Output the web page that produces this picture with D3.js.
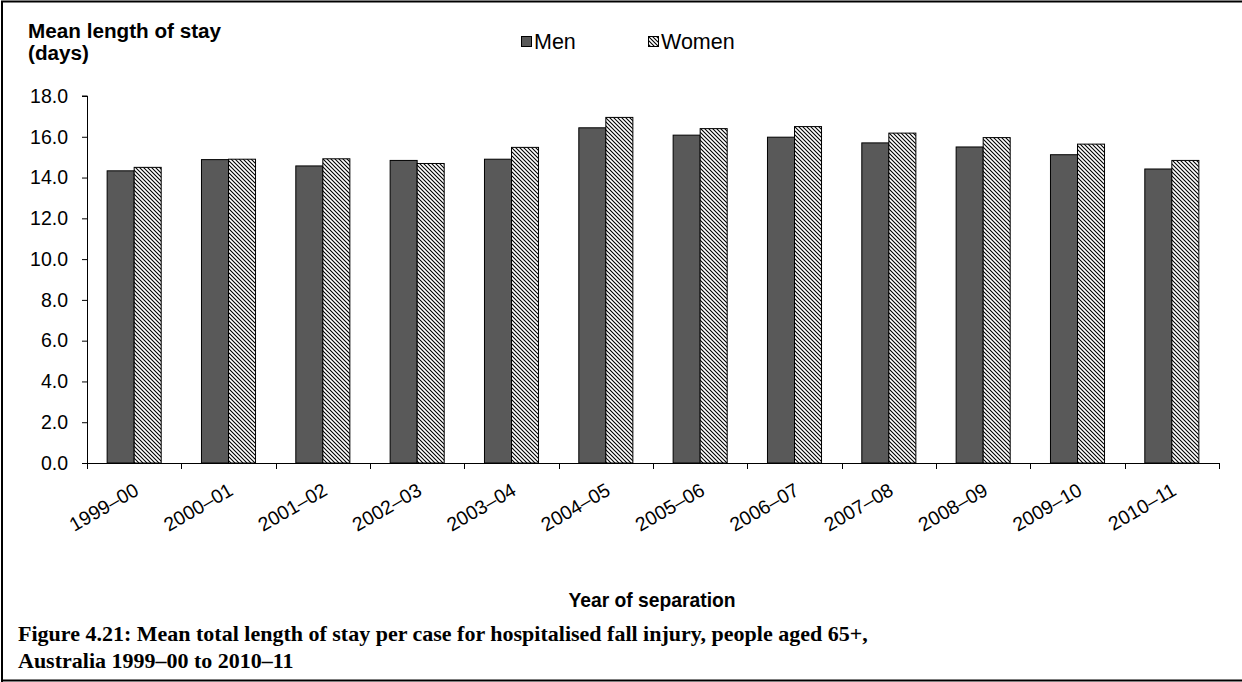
<!DOCTYPE html>
<html><head><meta charset="utf-8">
<script src="https://cdn.jsdelivr.net/npm/d3@7"></script>
<style>
html,body{margin:0;padding:0;background:#fff;}
svg{display:block;}
</style></head>
<body>
<svg id="c" width="1242" height="682"></svg>
<script>
const categories = ["1999–00","2000–01","2001–02","2002–03","2003–04","2004–05","2005–06","2006–07","2007–08","2008–09","2009–10","2010–11"];
const men   = [14.33, 14.88, 14.57, 14.84, 14.90, 16.44, 16.08, 15.98, 15.70, 15.50, 15.12, 14.42];
const women = [14.50, 14.90, 14.92, 14.69, 15.48, 16.95, 16.40, 16.50, 16.18, 15.96, 15.64, 14.84];
const yTicks = [0,2,4,6,8,10,12,14,16,18];
const seriesNames = ["Men","Women"];

const svg = d3.select("#c");
const defs = svg.append("defs");
const pat = defs.append("pattern").attr("id","hatch").attr("patternUnits","userSpaceOnUse")
  .attr("width",4).attr("height",4);
pat.append("rect").attr("width",4).attr("height",4).attr("fill","#fff");
pat.append("path").attr("d","M-1,-1 L5,5 M-1,3 L1,5 M3,-1 L5,1").attr("stroke","#000").attr("stroke-width",1.1);

// frame
svg.append("path").attr("d","M2,682 L2,1.5 L1242,1.5 M2,680.5 L1242,680.5").attr("fill","none").attr("stroke","#000").attr("stroke-width",2);

const pL = 87, pR = 1219, pT = 96, pB = 463;
const x0 = d3.scaleBand().domain(categories).range([pL,pR]).paddingInner(0.427).paddingOuter(0.2135);
const x1 = d3.scaleBand().domain(seriesNames).range([0,x0.bandwidth()]);
const y = d3.scaleLinear().domain([0,18]).range([pB,pT]);

const font = "'Liberation Sans', Arial, sans-serif";

// bars
const g = svg.append("g");
categories.forEach((c,i)=>{
  const vals = [men[i], women[i]];
  seriesNames.forEach((s,j)=>{
    g.append("rect")
      .attr("x", x0(c)+x1(s))
      .attr("y", y(vals[j]))
      .attr("width", x1.bandwidth())
      .attr("height", y(0)-y(vals[j]))
      .attr("fill", j===0 ? "#595959" : "url(#hatch)")
      .attr("stroke","#000").attr("stroke-width",1);
  });
});

// y axis
const yAxis = d3.axisLeft(y).tickValues(yTicks).tickFormat(d3.format(".1f")).tickSize(5).tickPadding(14);
const ya = svg.append("g").attr("transform",`translate(${pL},0)`).call(yAxis);
ya.selectAll("text").attr("font-family",font).attr("font-size",19.5).attr("fill","#000");
ya.select(".domain").attr("stroke","#000").attr("d",`M-5,${pT}H0.5V${pB}`);
ya.selectAll(".tick line").attr("stroke","#000");

// x axis
const xa = svg.append("g").attr("transform",`translate(0,${pB})`);
xa.append("line").attr("x1",pL).attr("x2",pR).attr("y1",0.5).attr("y2",0.5).attr("stroke","#000");
const step = x0.step();
const boundaries = d3.range(categories.length+1).map(i=> pL + i*step);
xa.selectAll("line.tk").data(boundaries).enter().append("line").attr("class","tk")
  .attr("x1",d=>Math.round(d)+0.5).attr("x2",d=>Math.round(d)+0.5).attr("y1",0).attr("y2",6).attr("stroke","#000");
xa.selectAll("text.lbl").data(categories).enter().append("text").attr("class","lbl")
  .attr("transform",c=>`translate(${x0(c)+x0.bandwidth()/2-1},19) rotate(-30)`)
  .attr("text-anchor","end").attr("dy","0.71em")
  .attr("font-family",font).attr("font-size",19.5).attr("fill","#000")
  .text(c=>c);

// axis titles
const tf = 20.7;
svg.append("text").attr("x",28).attr("y",38).attr("font-family",font).attr("font-weight","bold").attr("font-size",tf).text("Mean length of stay");
svg.append("text").attr("x",28).attr("y",60).attr("font-family",font).attr("font-weight","bold").attr("font-size",tf).text("(days)");
svg.append("text").attr("x",652).attr("y",607).attr("text-anchor","middle").attr("font-family",font).attr("font-weight","bold").attr("font-size",19.3).text("Year of separation");

// legend
const legX = [521, 648];
seriesNames.forEach((s,j)=>{
  svg.append("rect").attr("x",legX[j]+0.5).attr("y",36.5).attr("width",10).attr("height",10)
    .attr("fill", j===0 ? "#595959" : "url(#hatch)").attr("stroke","#000");
  svg.append("text").attr("x",legX[j]+13).attr("y",49).attr("font-family",font).attr("font-size",21.5).text(s);
});

// caption
const cap = svg.append("g").attr("font-family","'Liberation Serif', 'Times New Roman', serif").attr("font-weight","bold").attr("font-size",22);
cap.append("text").attr("x",18).attr("y",641).text("Figure 4.21: Mean total length of stay per case for hospitalised fall injury, people aged 65+,");
cap.append("text").attr("x",18).attr("y",668).text("Australia 1999–00 to 2010–11");
</script>
</body></html>
